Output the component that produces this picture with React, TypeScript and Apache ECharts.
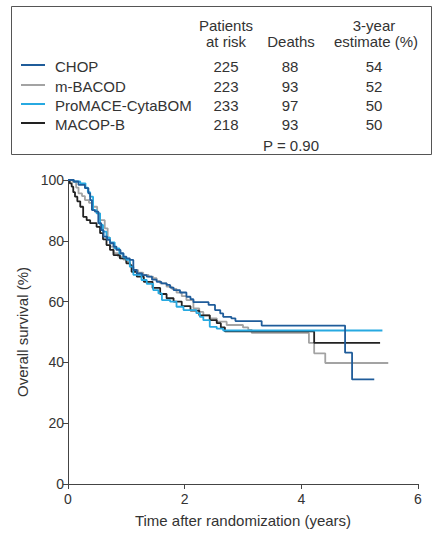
import React, { useEffect, useRef } from "react";
import * as echarts from "echarts";

const treatments = ["CHOP", "m-BACOD", "ProMACE-CytaBOM", "MACOP-B"];
const patientsAtRisk = [225, 223, 233, 218];
const deaths = [88, 93, 97, 93];
const estimate3yr = [54, 52, 50, 50];
const pValueText = "P = 0.90";
const colors = ["#1f5c9a", "#a3a3a3", "#27a9e1", "#222222"];

const xTicks = [0, 2, 4, 6];
const yTicks = [0, 20, 40, 60, 80, 100];

// Kaplan-Meier step points [years, survival %] (value after each drop)
const chop: [number, number][] = [
  [0, 100], [0.1, 99.5], [0.18, 98.4], [0.29, 97.3], [0.35, 95.6], [0.38, 93.4], [0.41, 90.1],
  [0.46, 89.6], [0.52, 85.8], [0.57, 83.5], [0.61, 81.4], [0.67, 80.3], [0.72, 79.2], [0.78, 78.1],
  [0.83, 77.0], [0.9, 75.9], [0.95, 74.8], [1.0, 74.2], [1.06, 73.7], [1.12, 70.4], [1.18, 69.3],
  [1.27, 68.7], [1.35, 68.2], [1.44, 67.2], [1.52, 66.5], [1.6, 66.0], [1.69, 65.5], [1.75, 64.6],
  [1.81, 63.8], [1.92, 63.0], [2.03, 61.6], [2.1, 60.8], [2.15, 59.8], [2.41, 58.9], [2.52, 57.2],
  [2.61, 56.1], [2.66, 55.0], [2.8, 54.5], [2.87, 53.6], [3.32, 52.1], [4.75, 43.2], [4.87, 34.4],
  [5.25, 34.4],
];
const mBacod: [number, number][] = [
  [0, 100], [0.08, 99.3], [0.14, 97.5], [0.18, 95.6], [0.24, 94.7], [0.29, 93.4], [0.36, 92.5],
  [0.43, 91.2], [0.5, 89.0], [0.55, 86.8], [0.63, 84.1], [0.68, 81.0], [0.72, 78.1], [0.78, 75.9],
  [0.86, 74.8], [0.95, 73.8], [1.0, 73.1], [1.06, 71.5], [1.12, 70.4], [1.2, 69.5], [1.29, 68.8],
  [1.38, 68.2], [1.46, 67.7], [1.52, 66.8], [1.58, 66.0], [1.69, 64.9], [1.78, 64.2], [1.86, 63.0],
  [1.95, 61.8], [2.03, 60.5], [2.15, 57.8], [2.25, 56.6], [2.32, 55.5], [2.43, 54.5], [2.55, 53.4],
  [2.72, 52.3], [3.0, 51.5], [3.09, 50.7], [3.15, 49.7], [4.13, 46.4], [4.22, 43.0], [4.41, 39.8],
  [5.49, 39.8],
];
const promace: [number, number][] = [
  [0, 100], [0.1, 99.5], [0.21, 98.9], [0.3, 97.5], [0.34, 96.0], [0.38, 94.5], [0.43, 90.1],
  [0.49, 89.0], [0.55, 85.2], [0.6, 83.0], [0.66, 81.0], [0.72, 79.5], [0.8, 77.5], [0.88, 75.8],
  [0.95, 74.5], [1.0, 73.7], [1.06, 71.5], [1.12, 68.8], [1.26, 67.1], [1.35, 65.8], [1.46, 63.8],
  [1.55, 62.7], [1.61, 60.5], [1.75, 60.0], [1.86, 58.3], [1.98, 57.2], [2.2, 56.2], [2.26, 55.0],
  [2.32, 53.9], [2.43, 51.7], [2.55, 51.1], [2.66, 50.5], [5.39, 50.5],
];
const macopB: [number, number][] = [
  [0, 100], [0.03, 98.9], [0.063, 97.8], [0.09, 96.0], [0.12, 94.5], [0.16, 93.0], [0.21, 91.2],
  [0.26, 87.9], [0.32, 86.8], [0.38, 85.8], [0.49, 84.6], [0.55, 82.5], [0.6, 80.5], [0.66, 78.6],
  [0.72, 77.0], [0.78, 75.3], [0.89, 74.2], [1.0, 72.6], [1.06, 72.0], [1.09, 69.8], [1.18, 68.2],
  [1.3, 66.5], [1.45, 64.5], [1.58, 62.5], [1.69, 61.1], [1.81, 60.0], [1.95, 58.5], [2.1, 57.0],
  [2.25, 55.5], [2.43, 53.9], [2.55, 52.9], [2.62, 51.5], [2.69, 50.2], [4.22, 46.4], [5.35, 46.4],
];
const seriesData = [chop, mBacod, promace, macopB];
const drawOrder = [1, 3, 2, 0];

const FONT = "'Liberation Sans', Arial, Helvetica, sans-serif";
const TXT = "#333333";

export default function App() {
  const ref = useRef<HTMLDivElement>(null);
  useEffect(() => {
    document.body.style.margin = "0";
    const chart = echarts.init(ref.current!, null, { renderer: "svg" });

    const rowY = [66, 86, 105, 124];
    const tableGraphics: any[] = [
      {
        type: "rect",
        shape: { x: 11.5, y: 6.5, width: 420, height: 148 },
        style: { fill: "none", stroke: "#555", lineWidth: 1 },
      },
      { type: "text", x: 226, y: 25, style: { text: "Patients", fill: TXT, font: `15px ${FONT}`, align: "center", verticalAlign: "middle" } },
      { type: "text", x: 226, y: 41, style: { text: "at risk", fill: TXT, font: `15px ${FONT}`, align: "center", verticalAlign: "middle" } },
      { type: "text", x: 291, y: 41, style: { text: "Deaths", fill: TXT, font: `15px ${FONT}`, align: "center", verticalAlign: "middle" } },
      { type: "text", x: 374, y: 25, style: { text: "3-year", fill: TXT, font: `15px ${FONT}`, align: "center", verticalAlign: "middle" } },
      { type: "text", x: 376, y: 41, style: { text: "estimate (%)", fill: TXT, font: `15px ${FONT}`, align: "center", verticalAlign: "middle" } },
      { type: "text", x: 291, y: 145, style: { text: pValueText, fill: TXT, font: `15px ${FONT}`, align: "center", verticalAlign: "middle" } },
    ];
    treatments.forEach((name, i) => {
      const y = rowY[i];
      tableGraphics.push(
        { type: "line", shape: { x1: 21, y1: y - 1, x2: 45, y2: y - 1 }, style: { stroke: colors[i], lineWidth: 2 } },
        { type: "text", x: 55, y, style: { text: name, fill: TXT, font: `15px ${FONT}`, align: "left", verticalAlign: "middle" } },
        { type: "text", x: 226, y, style: { text: String(patientsAtRisk[i]), fill: TXT, font: `15px ${FONT}`, align: "center", verticalAlign: "middle" } },
        { type: "text", x: 290, y, style: { text: String(deaths[i]), fill: TXT, font: `15px ${FONT}`, align: "center", verticalAlign: "middle" } },
        { type: "text", x: 374, y, style: { text: String(estimate3yr[i]), fill: TXT, font: `15px ${FONT}`, align: "center", verticalAlign: "middle" } }
      );
    });

    chart.setOption({
      animation: false,
      backgroundColor: "#ffffff",
      textStyle: { fontFamily: FONT },
      grid: { left: 68, right: 23, top: 180, bottom: 68, containLabel: false },
      xAxis: {
        type: "value",
        min: xTicks[0],
        max: xTicks[xTicks.length - 1],
        interval: 2,
        name: "Time after randomization (years)",
        nameLocation: "middle",
        nameGap: 29,
        nameTextStyle: { fontSize: 15, color: TXT, fontFamily: FONT },
        axisLine: { lineStyle: { color: "#444", width: 1 } },
        axisTick: { show: true, length: 5, lineStyle: { color: "#444" } },
        axisLabel: { fontSize: 14, color: TXT, margin: 8, fontFamily: FONT },
        splitLine: { show: false },
      },
      yAxis: {
        type: "value",
        min: yTicks[0],
        max: yTicks[yTicks.length - 1],
        interval: 20,
        name: "Overall survival (%)",
        nameLocation: "middle",
        nameGap: 38,
        nameTextStyle: { fontSize: 15, color: TXT, fontFamily: FONT },
        axisLine: { show: true, lineStyle: { color: "#444", width: 1 } },
        axisTick: { show: true, length: 5, lineStyle: { color: "#444" } },
        axisLabel: { fontSize: 14, color: TXT, margin: 4, fontFamily: FONT },
        splitLine: { show: false },
      },
      series: drawOrder.map((i) => ({
        name: treatments[i],
        type: "line",
        step: "end",
        data: seriesData[i],
        showSymbol: false,
        symbol: "none",
        lineStyle: { color: colors[i], width: 1.8 },
        itemStyle: { color: colors[i] },
      })),
      graphic: tableGraphics,
    });
    return () => chart.dispose();
  }, []);
  return <div ref={ref} style={{ width: 441, height: 552 }} />;
}
